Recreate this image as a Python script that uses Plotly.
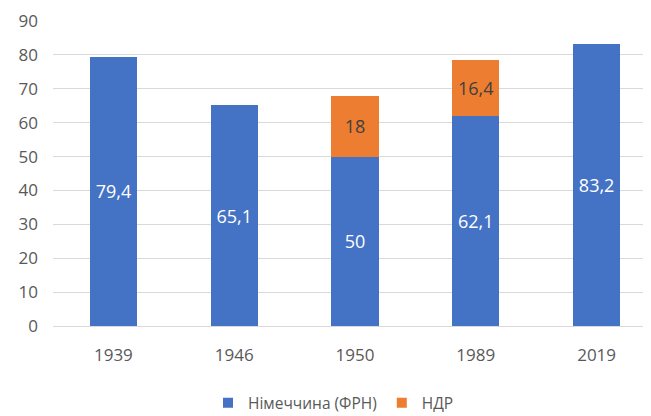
import plotly.graph_objects as go

years = ["1939", "1946", "1950", "1989", "2019"]
frg = [79.4, 65.1, 50, 62.1, 83.2]
gdr = [None, None, 18, 16.4, None]
frg_labels = ["79,4", "65,1", "50", "62,1", "83,2"]
gdr_labels = ["", "", "18", "16,4", ""]
y_ticks = [0, 10, 20, 30, 40, 50, 60, 70, 80, 90]
series_names = ["Німеччина (ФРН)", "НДР"]
colors = ["#4472C4", "#ED7D31"]

fig = go.Figure()
fig.add_trace(go.Bar(
    x=years, y=frg, name=series_names[0], marker_color=colors[0], marker_line_width=0,
    text=frg_labels, textposition="inside", insidetextanchor="middle",
    textfont=dict(color="white", size=18), texttemplate="%{text}", showlegend=False,
))
fig.add_trace(go.Bar(
    x=years, y=gdr, name=series_names[1], marker_color=colors[1], marker_line_width=0,
    text=gdr_labels, textposition="inside", insidetextanchor="middle",
    textfont=dict(color="#404040", size=18), texttemplate="%{text}", showlegend=False,
))
# legend entries with small square swatches
for nm, c in zip(series_names, colors):
    fig.add_trace(go.Scatter(x=[None], y=[None], mode="markers", name=nm,
                             marker=dict(symbol="square", size=10, color=c)))

fig.update_layout(
    barmode="stack", bargap=0.61,
    width=651, height=416,
    margin=dict(l=45, r=2, t=13, b=98, autoexpand=False),
    plot_bgcolor="white", paper_bgcolor="white",
    font=dict(family="Open Sans", color="#595959", size=17),
    legend=dict(orientation="h", x=0.5, xanchor="center", xref="container",
                y=0.05, yanchor="middle", yref="container",
                font=dict(size=15.5, color="#595959"), itemwidth=30, traceorder="normal"),
    showlegend=True,
)
fig.update_yaxes(range=[0, 90], tickvals=y_ticks, showgrid=True, gridcolor="#D9D9D9",
                 gridwidth=1, zeroline=False, showline=False, ticks="", ticklabelstandoff=14,
                 tickfont=dict(size=17, color="#595959"), automargin=False)
fig.update_xaxes(showline=True, linecolor="#D9D9D9", ticks="", tickfont=dict(size=17, color="#595959"),
                 ticklabelstandoff=14, automargin=False)
fig.write_html("out.html")
